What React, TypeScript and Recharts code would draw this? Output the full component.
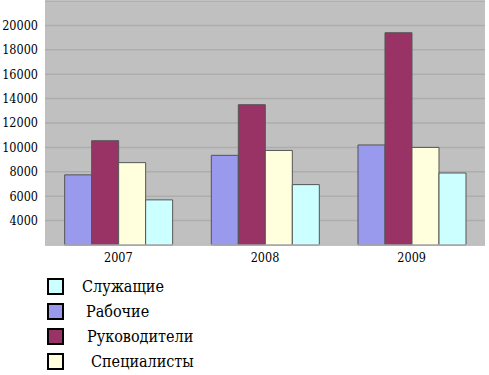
import { BarChart, Bar, XAxis, YAxis, CartesianGrid } from "recharts"

// years on the x axis
const years = ["2007", "2008", "2009"]

// values per group
const rabochie = [7750, 9350, 10200]
const rukovoditeli = [10550, 13500, 19400]
const specialisty = [8750, 9750, 10000]
const sluzhashchie = [5700, 6950, 7900]

const yTicks = [4000, 6000, 8000, 10000, 12000, 14000, 16000, 18000, 20000]

const data = years.map((year, i) => ({
  year,
  rabochie: rabochie[i],
  rukovoditeli: rukovoditeli[i],
  specialisty: specialisty[i],
  sluzhashchie: sluzhashchie[i],
}))

const FONT = "'DejaVu Serif', serif"
const FONT_NARROW = "'DejaVu Serif Condensed', 'DejaVu Serif', serif"
const EDGE = "#555555"

// legend order differs from bar order in the source
const legendItems = [
  { label: "Служащие", color: "#CCFFFF", pad: 0 },
  { label: "Рабочие", color: "#9999EE", pad: 4 },
  { label: "Руководители", color: "#993366", pad: 5 },
  { label: "Специалисты", color: "#FFFFDD", pad: 9 },
]

export default function App() {
  return (
    <div style={{ position: "absolute", left: 0, top: 0, width: 489, height: 375, background: "#fff", fontFamily: FONT }}>
      <BarChart
        width={489}
        height={265}
        data={data}
        margin={{ top: 1, right: 4, bottom: 0, left: 0 }}
        barCategoryGap="13.4%"
        barGap={0}
        style={{ fontFamily: FONT }}
      >
        <CartesianGrid vertical={false} fill="#C0C0C0" stroke="#ADADAD" strokeWidth={1.5} />
        <XAxis
          dataKey="year"
          height={20}
          tickLine={false}
          axisLine={{ stroke: "#C8C8C8" }}
          tick={{ fontSize: 12.5, fill: "#000", style: { fontFamily: FONT_NARROW } }}
        />
        <YAxis
          width={45}
          domain={[2000, 22000]}
          ticks={yTicks}
          interval={0}
          axisLine={false}
          tickLine={false}
          tick={{ fontSize: 12.5, fill: "#000", dx: 1, style: { fontFamily: FONT_NARROW } }}
        />
        <Bar dataKey="rabochie" fill="#9999EE" stroke={EDGE} isAnimationActive={false} />
        <Bar dataKey="rukovoditeli" fill="#993366" stroke={EDGE} isAnimationActive={false} />
        <Bar dataKey="specialisty" fill="#FFFFDD" stroke={EDGE} isAnimationActive={false} />
        <Bar dataKey="sluzhashchie" fill="#CCFFFF" stroke={EDGE} isAnimationActive={false} />
      </BarChart>
      <div style={{ position: "absolute", left: 47, top: 274 }}>
        {legendItems.map((item) => (
          <div key={item.label} style={{ display: "flex", alignItems: "center", height: 25 }}>
            <div
              style={{
                width: 13,
                height: 13,
                background: item.color,
                border: "2px solid #000",
              }}
            />
            <span style={{ marginLeft: 18 + item.pad, fontSize: 16, color: "#000", fontFamily: FONT_NARROW }}>
              {item.label}
            </span>
          </div>
        ))}
      </div>
    </div>
  )
}
